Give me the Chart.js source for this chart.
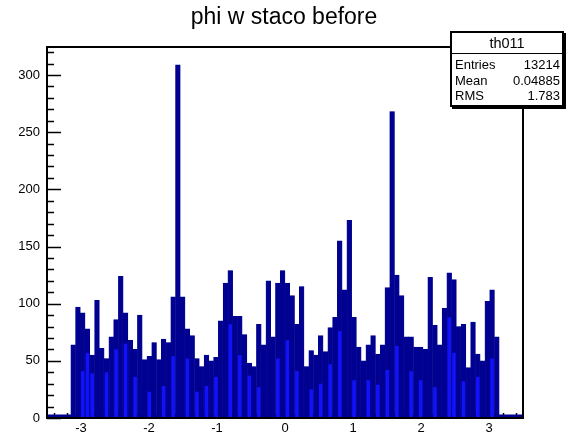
<!DOCTYPE html>
<html><head><meta charset="utf-8">
<script src="https://cdn.jsdelivr.net/npm/chart.js@4"></script>
<style>
html,body{margin:0;padding:0;background:#fff;}
#wrap{position:relative;width:579px;height:436px;overflow:hidden;font-family:"Liberation Sans",Arial,sans-serif;}
#title{position:absolute;left:0;width:568px;top:3px;text-align:center;font-size:23px;color:#000;}
#stats{position:absolute;left:450px;top:31px;width:110px;height:72px;border:2px solid #000;background:#fff;box-shadow:2px 2px 0 #000;font-size:13px;color:#000;}
#stats .t{height:20px;line-height:21px;text-align:center;border-bottom:1.5px solid #000;font-size:14.5px;}
#stats .r{height:15.5px;line-height:15.5px;padding:0 2px 0 3px;display:flex;justify-content:space-between;}
</style></head>
<body>
<div id="wrap">
<canvas id="c" width="579" height="436"></canvas>
<div id="title">phi w staco before</div>
<div id="stats">
 <div class="t">th011</div>
 <div class="r" style="margin-top:3px"><span>Entries</span><span>13214</span></div>
 <div class="r"><span>Mean</span><span>0.04885</span></div>
 <div class="r"><span>RMS</span><span>1.783</span></div>
</div>
</div>
<script>
// histogram binning
const binLow = -3.5;
const binWidth = 0.07;
// main histogram contents (100 bins, -3.5 .. 3.5)
const counts = [
 0,0,0,0,0,
 64,97,92,78,55,103,61,52,71,86,124,92,68,60,90,51,54,66,51,69,66,106,309,
 106,78,72,52,45,55,50,53,85,118,129,89,89,73,48,45,82,64,120,71,118,129,118,107,82,115,45,59,55,72,58,79,88,155,112,173,88,62,50,64,72,56,64,114,268,
 125,107,71,71,62,62,60,123,81,64,96,127,121,80,82,44,84,56,50,102,112,71,
 0,0,0,0,0
];
// visible bright-blue fill columns (bin index, height)
const fillBins   = [7,8,9,12,14,16,18,21,24,26,29,31,33,35,38,40,42,44,48,50,52,55,57,59,61,64,67,69,71,73,76,78,81,84,85,87,90,93];
const fillValues = [41,57,39,40,60,65,36,23,28,54,52,23,28,36,82,55,37,27,52,68,41,25,30,47,76,33,33,29,42,63,41,33,27,88,57,32,36,52];
const xTicks = [-3,-2,-1,0,1,2,3];
const yTicks = [0,50,100,150,200,250,300];

const centers = counts.map((_, i) => binLow + binWidth * (i + 0.5));
const mainData = counts.map((v, i) => ({x: centers[i], y: v}));
const fillData = fillBins.map((b, k) => ({x: centers[b], y: fillValues[k]}));

const NAVY = 'rgb(0,0,145)';
const BRIGHT = 'rgb(18,18,250)';

const rootDeco = {
  id: 'rootDeco',
  beforeDatasetsDraw(chart) {
    const {ctx, chartArea: a, scales: {x, y}} = chart;
    ctx.save();
    ctx.strokeStyle = '#000';
    ctx.lineWidth = 1.5;
    for (let v = 0; v <= 320; v += 10) {
      const py = Math.round(y.getPixelForValue(v)) + 0.5;
      const len = (v % 50 === 0) ? 14 : 7;
      ctx.beginPath(); ctx.moveTo(a.left, py); ctx.lineTo(a.left + len, py); ctx.stroke();
    }
    for (let k = -17; k <= 17; k++) {
      const v = k * 0.2;
      const px = Math.round(x.getPixelForValue(v)) + 0.5;
      const len = (k % 5 === 0) ? 11 : 5;
      ctx.beginPath(); ctx.moveTo(px, a.bottom); ctx.lineTo(px, a.bottom - len); ctx.stroke();
    }
    ctx.strokeStyle = NAVY;
    ctx.lineWidth = 3;
    ctx.beginPath(); ctx.moveTo(a.left, a.bottom - 2); ctx.lineTo(a.right, a.bottom - 2); ctx.stroke();
    ctx.restore();
  },
  afterDatasetsDraw(chart) {
    const {ctx, chartArea: a} = chart;
    ctx.save();
    ctx.strokeStyle = '#000';
    ctx.lineWidth = 2;
    ctx.strokeRect(a.left, a.top, a.right - a.left, a.bottom - a.top);
    ctx.restore();
  }
};

new Chart(document.getElementById('c'), {
  type: 'bar',
  data: {
    datasets: [
      {data: fillData, backgroundColor: BRIGHT, borderWidth: 0, barPercentage: 0.75, categoryPercentage: 1, grouped: false, order: 0},
      {data: mainData, backgroundColor: NAVY, borderColor: NAVY, borderWidth: 0.6, barPercentage: 1, categoryPercentage: 1, grouped: false, order: 1}
    ]
  },
  options: {
    responsive: false,
    animation: false,
    devicePixelRatio: 1,
    layout: {padding: {top: 47, right: 56, left: 0, bottom: 0}},
    plugins: {legend: {display: false}, tooltip: {enabled: false}, title: {display: false}},
    scales: {
      x: {
        type: 'linear', min: -3.5, max: 3.5, offset: false,
        grid: {display: false, drawTicks: false}, border: {display: false},
        afterBuildTicks(s) { s.ticks = xTicks.map(v => ({value: v})); },
        afterFit(s) { s.height = 18; },
        ticks: {color: '#000', padding: 3, maxRotation: 0, autoSkip: false,
          font: {family: 'Liberation Sans', size: 13}, callback: v => String(v)}
      },
      y: {
        type: 'linear', min: 0, max: 324.5,
        grid: {display: false, drawTicks: false}, border: {display: false},
        afterBuildTicks(s) { s.ticks = yTicks.map(v => ({value: v})); },
        afterFit(s) { s.width = 47; },
        ticks: {color: '#000', padding: 7, font: {family: 'Liberation Sans', size: 13}, callback: v => String(v)}
      }
    }
  },
  plugins: [rootDeco]
});
</script>
</body></html>
